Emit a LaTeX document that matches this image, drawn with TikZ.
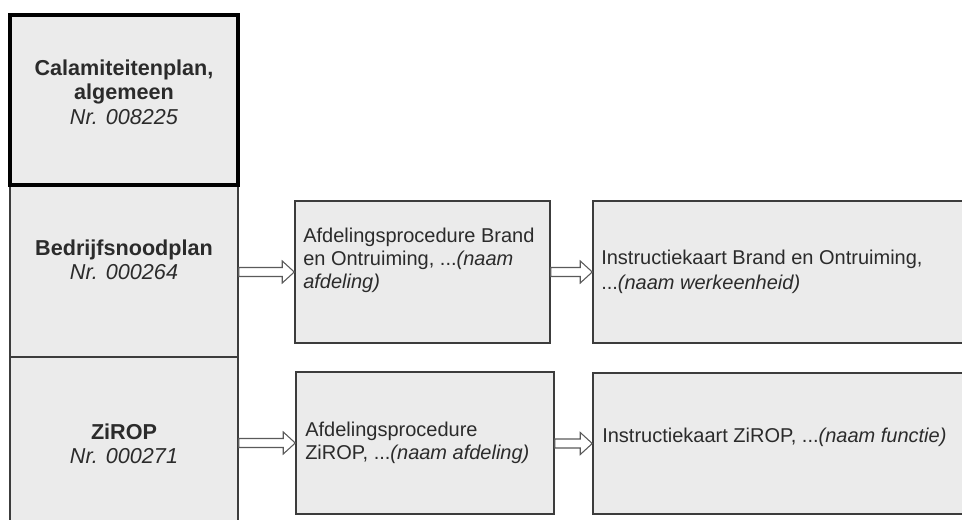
\documentclass[tikz,border=0pt]{standalone}
\usepackage{fontspec}
\setmainfont{Liberation Sans}
\usetikzlibrary{calc}
\definecolor{boxgray}{HTML}{EBEBEB}
\definecolor{edgegray}{HTML}{3C3C3C}
\definecolor{arrowgray}{HTML}{5A5A5A}
\definecolor{inkgray}{HTML}{2B2B2B}
\newdimen\pxu
\pxu=0.75pt
\tikzset{
    plan/.style={rectangle,draw=edgegray,fill=boxgray,line width=1.1pt,inner sep=0pt},
    thickplan/.style={plan,draw=black,line width=2.6pt},
    kop/.style={inner sep=0pt,text=inkgray,align=center,font=\fontsize{16.2}{18.4}\selectfont},
    tekst/.style={inner sep=0pt,text=inkgray,align=left,anchor=west,font=\fontsize{15}{17.25}\selectfont},
    hollow/.style={draw=arrowgray,fill=white,line width=0.8pt,
        to path={let \p1=(\tikztostart), \p2=(\tikztotarget) in
            (\x1,\y2+4.5\pxu) -- (\x2-12\pxu,\y2+4.5\pxu) -- (\x2-12\pxu,\y2+11\pxu)
            -- (\x2,\y2) -- (\x2-12\pxu,\y2-11\pxu) -- (\x2-12\pxu,\y2-4.5\pxu)
            -- (\x1,\y2-4.5\pxu) -- cycle}},
    }
\begin{document}
\begin{tikzpicture}[x=0.75pt,y=-0.75pt]
    \fill[white] (0,0) rectangle (962,520);
    \clip (0,0) rectangle (962,520);

    % linker kolom
    \node[plan,minimum width=228\pxu,minimum height=172\pxu] (bnp) at (124,271) {};
    \node[plan,minimum width=228\pxu,minimum height=183\pxu] (zirop) at (124,448.5) {};
    \node[thickplan,minimum width=228\pxu,minimum height=170\pxu] (cal) at (124,100) {};

    % afdelingsprocedures
    \node[plan,minimum width=255\pxu,minimum height=142\pxu] (abo) at (422.5,272) {};
    \node[plan,minimum width=258\pxu,minimum height=142\pxu] (azr) at (425,443) {};

    % instructiekaarten
    \node[plan,minimum width=387\pxu,minimum height=142\pxu] (ikbo) at (786.5,272) {};
    \node[plan,minimum width=387\pxu,minimum height=141\pxu] (ikzr) at (786.5,443.5) {};

    \node[kop] (calt) at (124,92) {\textbf{Calamiteitenplan,}\\\textbf{algemeen}\\\textit{Nr. 008225}};
    \node[kop] (bnpt) at (124,260) {\textbf{Bedrijfsnoodplan}\\\textit{Nr. 000264}};
    \node[kop] (zt) at (124,444) {\textbf{ZiROP}\\\textit{Nr. 000271}};

    \node[tekst] (abot) at (303,260) {Afdelingsprocedure Brand\\en Ontruiming, ...\textit{(naam}\\\textit{afdeling)}};
    \node[tekst] (azrt) at (305,443) {Afdelingsprocedure\\ZiROP, ...\textit{(naam afdeling)}};
    \node[tekst,font=\fontsize{15}{18.75}\selectfont] (ikbot) at (601,272) {Instructiekaart Brand en Ontruiming,\\...\textit{(naam werkeenheid)}};
    \node[tekst] (ikzrt) at (602,437) {Instructiekaart ZiROP, ...\textit{(naam functie)}};

    \draw[hollow] (bnp.east) to (abo.west);
    \draw[hollow] (abo.east) to (ikbo.west);
    \draw[hollow] (zirop.east) to (azr.west);
    \draw[hollow] (azr.east) to (ikzr.west);
\end{tikzpicture}
\end{document}
